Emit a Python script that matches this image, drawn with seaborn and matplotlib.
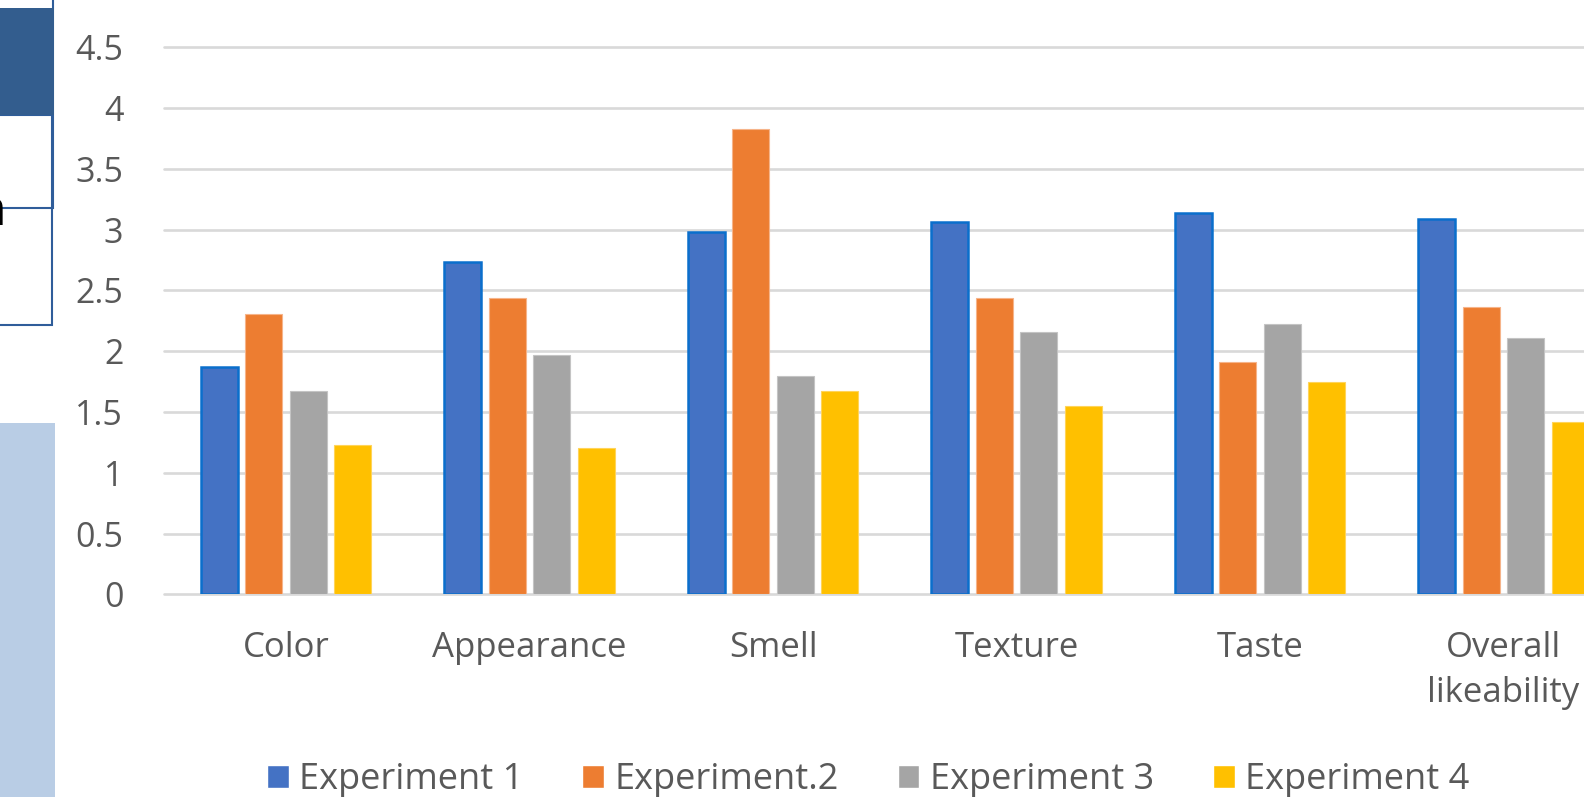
import matplotlib
matplotlib.use("Agg")
import matplotlib.pyplot as plt
from matplotlib.patches import Rectangle
import numpy as np
import pandas as pd
import seaborn as sns

# ---- data -------------------------------------------------------------
attributes = ["Color", "Appearance", "Smell", "Texture", "Taste", "Overall\nlikeability"]
experiments = ["Experiment 1", "Experiment.2", "Experiment 3", "Experiment 4"]
exp1 = [1.87, 2.73, 2.98, 3.06, 3.14, 3.09]
exp2 = [2.31, 2.44, 3.83, 2.44, 1.91, 2.36]
exp3 = [1.67, 1.97, 1.80, 2.16, 2.22, 2.11]
exp4 = [1.23, 1.20, 1.67, 1.55, 1.75, 1.42]
y_ticks = [0, 0.5, 1, 1.5, 2, 2.5, 3, 3.5, 4, 4.5]

colors = ["#4472C4", "#ED7D31", "#A5A5A5", "#FFC000"]
edge_colors = ["#0A6FCC", "#F6B48A", "#C4C4C4", "#FFD45A"]
edge_widths = [1.8, 0.8, 0.8, 0.8]
text_grey = "#595959"
grid_grey = "#D9D9D9"

df = pd.DataFrame({
    "attribute": np.repeat(attributes, len(experiments)),
    "experiment": experiments * len(attributes),
    "score": np.ravel(np.column_stack([exp1, exp2, exp3, exp4])),
})

# ---- figure -----------------------------------------------------------
sns.set_theme(style="white")
plt.rcParams["font.family"] = ["Open Sans", "DejaVu Sans"]

W, H = 1584, 797
fig = plt.figure(figsize=(W / 100, H / 100), dpi=100)
fig.patch.set_facecolor("white")

def px(x, y):
    """pixel position (from top-left) -> figure fraction"""
    return x / W, 1 - y / H

ax = fig.add_axes([164.3 / W, 1 - 594.3 / H, 1461 / W, 547 / H])

sns.barplot(data=df, x="attribute", y="score", hue="experiment",
            order=attributes, hue_order=experiments, palette=colors,
            saturation=1, width=0.731, gap=0.17, errorbar=None, ax=ax)

for cont, ec, lw in zip(ax.containers, edge_colors, edge_widths):
    for bar in cont:
        bar.set_edgecolor(ec)
        bar.set_linewidth(lw)
        bar.set_zorder(3)

ax.set_xlim(-0.5, len(attributes) - 0.5)
ax.set_ylim(0, 4.5)
ax.set_yticks(y_ticks)
ax.set_yticklabels([f"{v:g}" for v in y_ticks])
ax.set_xlabel("")
ax.set_ylabel("")
for s in ax.spines.values():
    s.set_visible(False)

ax.yaxis.grid(True, color=grid_grey, linewidth=1.9)
ax.xaxis.grid(False)
ax.set_axisbelow(True)
for gl in ax.get_ygridlines():
    gl.set_clip_on(False)

ax.tick_params(axis="y", length=0, pad=29.5, labelsize=24.5, labelcolor=text_grey)
ax.tick_params(axis="x", length=0, pad=26.5, labelsize=25, labelcolor=text_grey)
for lab in ax.get_xticklabels():
    lab.set_linespacing(1.42)
    lab.set_horizontalalignment("center")
    lab.set_multialignment("center")

sns.move_legend(ax, "center", bbox_to_anchor=px(868, 780),
                bbox_transform=fig.transFigure, ncol=4, frameon=False,
                title=None, fontsize=26, handlelength=0.6, handleheight=0.6,
                handletextpad=0.28, columnspacing=1.64, borderpad=0,
                labelcolor=text_grey)

# ---- neighbouring slide shapes at the left edge ------------------------
def rect(x0, y0, x1, y1, **kw):
    fx0, fy1 = px(x0, y0)
    fx1, fy0 = px(x1, y1)
    fig.add_artist(Rectangle((fx0, fy0), fx1 - fx0, fy1 - fy0,
                             transform=fig.transFigure, **kw))

border = "#2F5D9A"
rect(-10, -10, 53, 208, facecolor="none", edgecolor=border, linewidth=1.5)
rect(-10, 115, 51.5, 325, facecolor="none", edgecolor=border, linewidth=1.5)
rect(-10, 8, 54, 115, facecolor="#335D8E", edgecolor="none")
rect(-10, 423, 55, 810, facecolor="#B9CDE5", edgecolor="none")
fig.text(*px(6, 225), "n", ha="right", va="baseline", fontsize=36,
         color="black", family=["Open Sans", "DejaVu Sans"])

fig.savefig("out.png", dpi=100, facecolor="white")
